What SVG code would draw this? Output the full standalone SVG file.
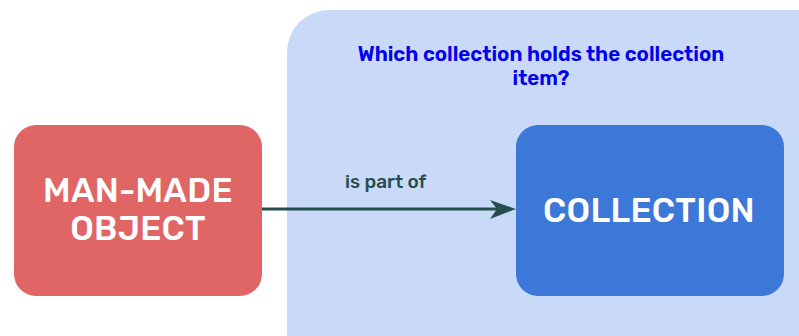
<svg xmlns="http://www.w3.org/2000/svg" width="799" height="336" viewBox="0 0 799 336">
<style>
.lbl{font-family:Rubik,Inter,"Liberation Sans",sans-serif;font-weight:500;fill:#ffffff;text-anchor:middle;font-size:34px;letter-spacing:0.3px}
.q{font-family:Rubik,Inter,"Liberation Sans",sans-serif;font-weight:600;fill:#0000ee;font-size:20.5px;text-anchor:middle}
.edge{font-family:Rubik,Inter,"Liberation Sans",sans-serif;font-weight:500;fill:#274e4e;font-size:19px}
</style>
<rect width="799" height="336" fill="#ffffff"/>
<g id="container">
<rect x="287" y="10" width="560" height="380" rx="42" fill="#c9daf8"/>
<text class="q" x="541" y="61">Which collection holds the collection</text>
<text class="q" x="541" y="85">item?</text>
</g>
<g id="man-made-object">
<rect x="14" y="125" width="248" height="171" rx="22" fill="#e06666"/>
<text class="lbl" x="138" y="201.5">MAN-MADE</text>
<text class="lbl" x="138" y="240">OBJECT</text>
</g>
<g id="collection">
<rect x="516" y="125" width="268" height="171" rx="22" fill="#3c78d8"/>
<text class="lbl" x="649" y="222">COLLECTION</text>
</g>
<g id="connectors">
<line x1="262" y1="209" x2="505" y2="209" stroke="#274e4e" stroke-width="3"/>
<path d="M516 209 L490 200 L497 209 L490 219 Z" fill="#274e4e"/>
<text class="edge" x="345" y="188">is part of</text>
</g>
</svg>
